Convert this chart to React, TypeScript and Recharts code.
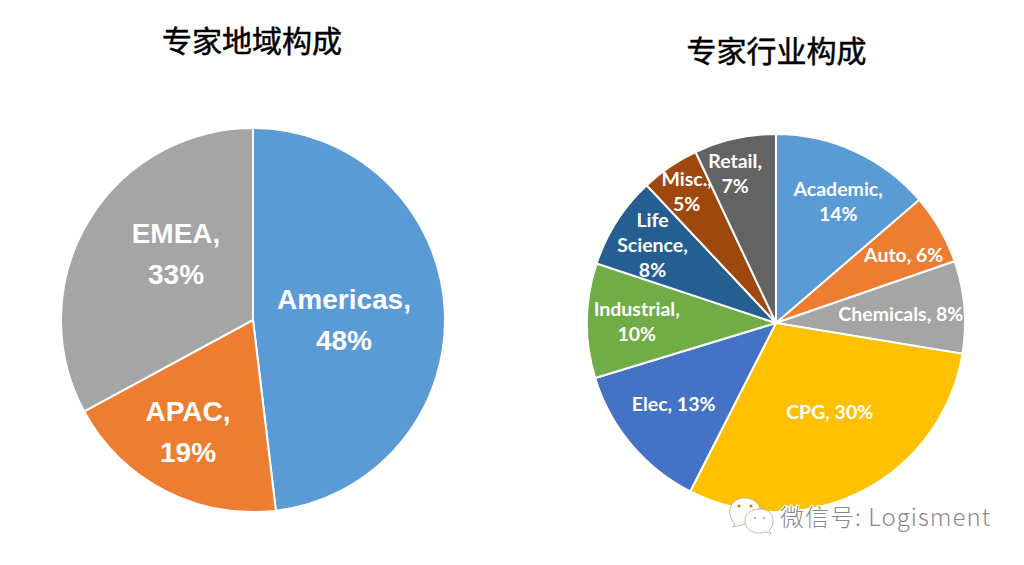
import React from "react";
import { PieChart, Pie, Cell } from "recharts";

const regionNames = ["Americas", "APAC", "EMEA"];
const regionValues = [48.1, 19, 32.9];
const regionPercents = ["48%", "19%", "33%"];
const regionColors = ["#5B9BD5", "#ED7D31", "#A5A5A5"];

const industryNames = ["Academic", "Auto", "Chemicals", "CPG", "Elec", "Industrial", "Life Science", "Misc.", "Retail"];
const industryValues = [13.7, 6, 7.9, 29.9, 12.8, 9.8, 7.9, 5, 7];
const industryPercents = ["14%", "6%", "8%", "30%", "13%", "10%", "8%", "5%", "7%"];
const industryColors = ["#5B9BD5", "#ED7D31", "#A5A5A5", "#FFC000", "#4472C4", "#70AD47", "#255E91", "#9E480E", "#636363"];

const regionData = regionNames.map((name, i) => ({ name, value: regionValues[i], pct: regionPercents[i] }));
const industryData = industryNames.map((name, i) => ({ name, value: industryValues[i], pct: industryPercents[i] }));

const RAD = Math.PI / 180;

type LabelCfg = {
  ring: number;
  nudges: number[][];
  lines: string[][];
  fontFamily: string;
  fontSize: number;
  lineHeight: number;
};

function makeLabel(cfg: LabelCfg) {
  return (props: any) => {
    const { cx, cy, midAngle, outerRadius, index } = props;
    const r = outerRadius * cfg.ring;
    const x = cx + r * Math.cos(-midAngle * RAD) + cfg.nudges[index][0];
    const y = cy + r * Math.sin(-midAngle * RAD) + cfg.nudges[index][1];
    const lines = cfg.lines[index];
    const top = y - ((lines.length - 1) * cfg.lineHeight) / 2;
    return (
      <text
        key={index}
        textAnchor="middle"
        dominantBaseline="central"
        fill="#FFFFFF"
        fontFamily={cfg.fontFamily}
        fontWeight={700}
        fontSize={cfg.fontSize}
      >
        {lines.map((l, i) => (
          <tspan key={i} x={x} y={top + i * cfg.lineHeight}>
            {l}
          </tspan>
        ))}
      </text>
    );
  };
}

const regionLabel = makeLabel({
  ring: 0.6,
  nudges: [[-24, 6], [-12, 9], [22, -8]],
  lines: regionData.map((d) => [d.name + ",", d.pct]),
  fontFamily: "'Liberation Sans', Arial, sans-serif",
  fontSize: 28,
  lineHeight: 41,
});

const industryLabel = makeLabel({
  ring: 0.7,
  nudges: [[7, -2], [13, -3], [-7, 1], [-6, -30], [-1, -5], [-7, -1], [-12, -8], [-15, -23], [-12, -21]],
  lines: [
    ["Academic,", "14%"],
    ["Auto, 6%"],
    ["Chemicals, 8%"],
    ["CPG, 30%"],
    ["Elec, 13%"],
    ["Industrial,", "10%"],
    ["Life", "Science,", "8%"],
    ["Misc.,", "5%"],
    ["Retail,", "7%"],
  ],
  fontFamily: "Lato, sans-serif",
  fontSize: 19.5,
  lineHeight: 25,
});

const cjk = "'Noto Sans CJK SC', sans-serif";

export default function App() {
  return (
    <div style={{ position: "absolute", left: 0, top: 0, width: 1024, height: 565, background: "#fff" }}>
      <PieChart width={1024} height={565} margin={{ top: 0, right: 0, bottom: 0, left: 0 }}>
        <Pie
          data={regionData}
          dataKey="value"
          nameKey="name"
          cx={253}
          cy={320}
          outerRadius={192}
          startAngle={90}
          endAngle={-270}
          stroke="#fff"
          strokeWidth={2}
          label={regionLabel}
          labelLine={false}
          isAnimationActive={false}
        >
          {regionData.map((d, i) => (
            <Cell key={d.name} fill={regionColors[i]} />
          ))}
        </Pie>
        <Pie
          data={industryData}
          dataKey="value"
          nameKey="name"
          cx={776}
          cy={323}
          outerRadius={189}
          startAngle={90}
          endAngle={-270}
          stroke="#fff"
          strokeWidth={2}
          label={industryLabel}
          labelLine={false}
          isAnimationActive={false}
        >
          {industryData.map((d, i) => (
            <Cell key={d.name} fill={industryColors[i]} />
          ))}
        </Pie>
      </PieChart>
      <svg width={1024} height={565} style={{ position: "absolute", left: 0, top: 0, pointerEvents: "none" }}>
        <text x={252} y={38.5} textAnchor="middle" dominantBaseline="central" fontFamily={cjk} fontSize={30} fontWeight={400} fill="#000" stroke="#000" strokeWidth={0.5}>
          专家地域构成
        </text>
        <text x={776.5} y={48.5} textAnchor="middle" dominantBaseline="central" fontFamily={cjk} fontSize={30} fontWeight={400} fill="#000" stroke="#000" strokeWidth={0.5}>
          专家行业构成
        </text>
        <g fill="#fff" stroke="#aaa" strokeWidth={0.8}>
          <path d="M745 498 C731 498 729 509 730 514 C731 519 733 522 735 524 L733 527 L742 525 L760 520 L760 508 C758 502 752 498 745 498 Z" fill="#fdfdf8" />
          <path d="M760 509 C750 509 745 515 745 521 C745 528 751 533 759 533 C762 533 764 532 766 532 L771 534 L769 530 C772 528 773 525 773 521 C773 514 768 509 760 509 Z" />
        </g>
        <circle cx={739} cy={506} r={1.6} fill="#b8860b" />
        <circle cx={751} cy={506} r={1.6} fill="#b8860b" />
        <circle cx={755} cy={518} r={1.3} fill="#bbb" />
        <circle cx={764} cy={518} r={1.3} fill="#bbb" />
        <text
          x={780}
          y={526}
          fontFamily={cjk}
          fontSize={24}
          fontWeight={300}
          letterSpacing={1}
          fill="#8a8a8a"
          stroke="#fff"
          strokeWidth={2}
          paintOrder="stroke"
        >
          微信号: Logisment
        </text>
      </svg>
    </div>
  );
}
